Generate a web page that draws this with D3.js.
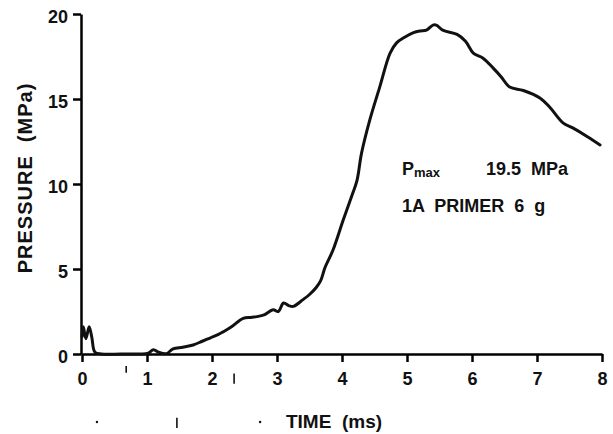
<!DOCTYPE html>
<html>
<head>
<meta charset="utf-8">
<script src="https://cdn.jsdelivr.net/npm/d3@7"></script>
</head>
<body style="margin:0">
<svg id="chart" width="613" height="434"></svg>
<script>
// ---- data ----
const timeMs = [0, 0.02, 0.06, 0.11, 0.15, 0.2, 0.3, 0.6, 0.9, 1.02, 1.1, 1.18, 1.3, 1.4, 1.55, 1.71, 1.85, 1.97, 2.1, 2.17, 2.3, 2.48, 2.6, 2.69, 2.8, 2.94, 3.02, 3.1, 3.18, 3.25, 3.4, 3.5, 3.6, 3.67, 3.74, 3.86, 4.02, 4.15, 4.23, 4.3, 4.43, 4.58, 4.74, 4.84, 4.95, 5.1, 5.2, 5.3, 5.4, 5.45, 5.55, 5.77, 5.9, 6.02, 6.17, 6.33, 6.45, 6.58, 6.79, 7.05, 7.2, 7.4, 7.55, 7.77, 7.97];
const pressureMPa = [1.0, 1.6, 0.9, 1.6, 1.0, 0.1, 0, 0, 0, 0.05, 0.25, 0.1, 0.02, 0.3, 0.4, 0.53, 0.75, 0.94, 1.15, 1.3, 1.6, 2.1, 2.15, 2.2, 2.3, 2.6, 2.5, 3.0, 2.85, 2.8, 3.2, 3.5, 3.9, 4.3, 5.1, 6.1, 7.9, 9.3, 10.2, 11.8, 13.8, 15.7, 17.7, 18.3, 18.6, 18.9, 19.0, 19.05, 19.35, 19.35, 19.05, 18.8, 18.4, 17.7, 17.4, 16.8, 16.3, 15.7, 15.5, 15.05, 14.5, 13.6, 13.3, 12.8, 12.3];
const xTicks = [0, 1, 2, 3, 4, 5, 6, 7, 8];
const yTicks = [0, 5, 10, 15, 20];
const xTitle = "TIME  (ms)";
const yTitle = "PRESSURE  (MPa)";
const annotLine1 = { label: "P", sub: "max", value: "19.5  MPa" };
const annotLine2 = "1A  PRIMER  6  g";

// ---- layout ----
const FONT = "'Liberation Sans', Arial, Helvetica, sans-serif";
const svg = d3.select("#chart");
const x = d3.scaleLinear().domain([0, 8]).range([82, 602]);
const y = d3.scaleLinear().domain([0, 20]).range([354, 14]);
const ink = "#000";

function label(sel) {
  return sel.attr("font-family", FONT).attr("font-weight", "bold").attr("fill", "#111").attr("xml:space", "preserve");
}

// x axis: keep d3's own domain path and tick lines
const xAxis = d3.axisBottom(x).tickValues(xTicks).tickSize(8).tickSizeOuter(0).tickFormat(d3.format("d"));
const gx = svg.append("g").attr("transform", `translate(0,${y(0)})`)
  .attr("stroke-width", 2.5).call(xAxis);
gx.selectAll(".tick text").attr("y", 31).attr("dy", null).attr("font-size", 18).call(label);

// y axis
const yAxis = d3.axisLeft(y).tickValues(yTicks).tickSize(8).tickSizeOuter(0).tickFormat(d3.format("d"));
const gy = svg.append("g").attr("transform", `translate(${x(0) - 1},0)`)
  .attr("stroke-width", 2.5).call(yAxis);
gy.selectAll(".tick text").attr("x", -13).attr("dy", "0.45em").attr("font-size", 18).call(label);

// curve
const pts = timeMs.map((t, i) => [t, pressureMPa[i]]);
const lineGen = d3.line().x(d => x(d[0])).y(d => y(d[1])).curve(d3.curveCatmullRom.alpha(0.5));
svg.append("path")
  .datum(pts)
  .attr("d", lineGen)
  .attr("fill", "none")
  .attr("stroke", "#111")
  .attr("stroke-width", 3)
  .attr("stroke-linejoin", "round")
  .attr("stroke-linecap", "round");

// titles
svg.append("text").call(label)
  .attr("x", 334).attr("y", 428)
  .attr("text-anchor", "middle")
  .attr("font-size", 19)
  .text(xTitle);
svg.append("text").call(label)
  .attr("transform", `translate(32,178) rotate(-90)`)
  .attr("text-anchor", "middle")
  .attr("font-size", 20)
  .attr("letter-spacing", 1)
  .text(yTitle);

// annotation
const a1 = svg.append("text").call(label).attr("x", 402).attr("y", 175).attr("font-size", 18);
a1.append("tspan").text(annotLine1.label);
a1.append("tspan").attr("dy", 2).attr("font-size", 13).text(annotLine1.sub);
svg.append("text").call(label).attr("x", 486).attr("y", 175).attr("font-size", 18).text(annotLine1.value);
svg.append("text").call(label).attr("x", 402).attr("y", 212).attr("font-size", 18).text(annotLine2);

// small scan specks
const specks = [[0.68, -0.7, 0.4], [2.34, -1.15, 0.6], [1.46, -3.75, 0.6]];
specks.forEach(s => {
  svg.append("line")
    .attr("x1", x(s[0])).attr("x2", x(s[0]))
    .attr("y1", y(s[1])).attr("y2", y(s[1] - s[2]))
    .attr("stroke", "#111").attr("stroke-width", 1.6);
});
const dots = [[0.23, -4.0], [2.74, -4.0]];
dots.forEach(s => {
  svg.append("circle").attr("cx", x(s[0])).attr("cy", y(s[1])).attr("r", 1.2).attr("fill", "#111");
});
</script>
</body>
</html>
